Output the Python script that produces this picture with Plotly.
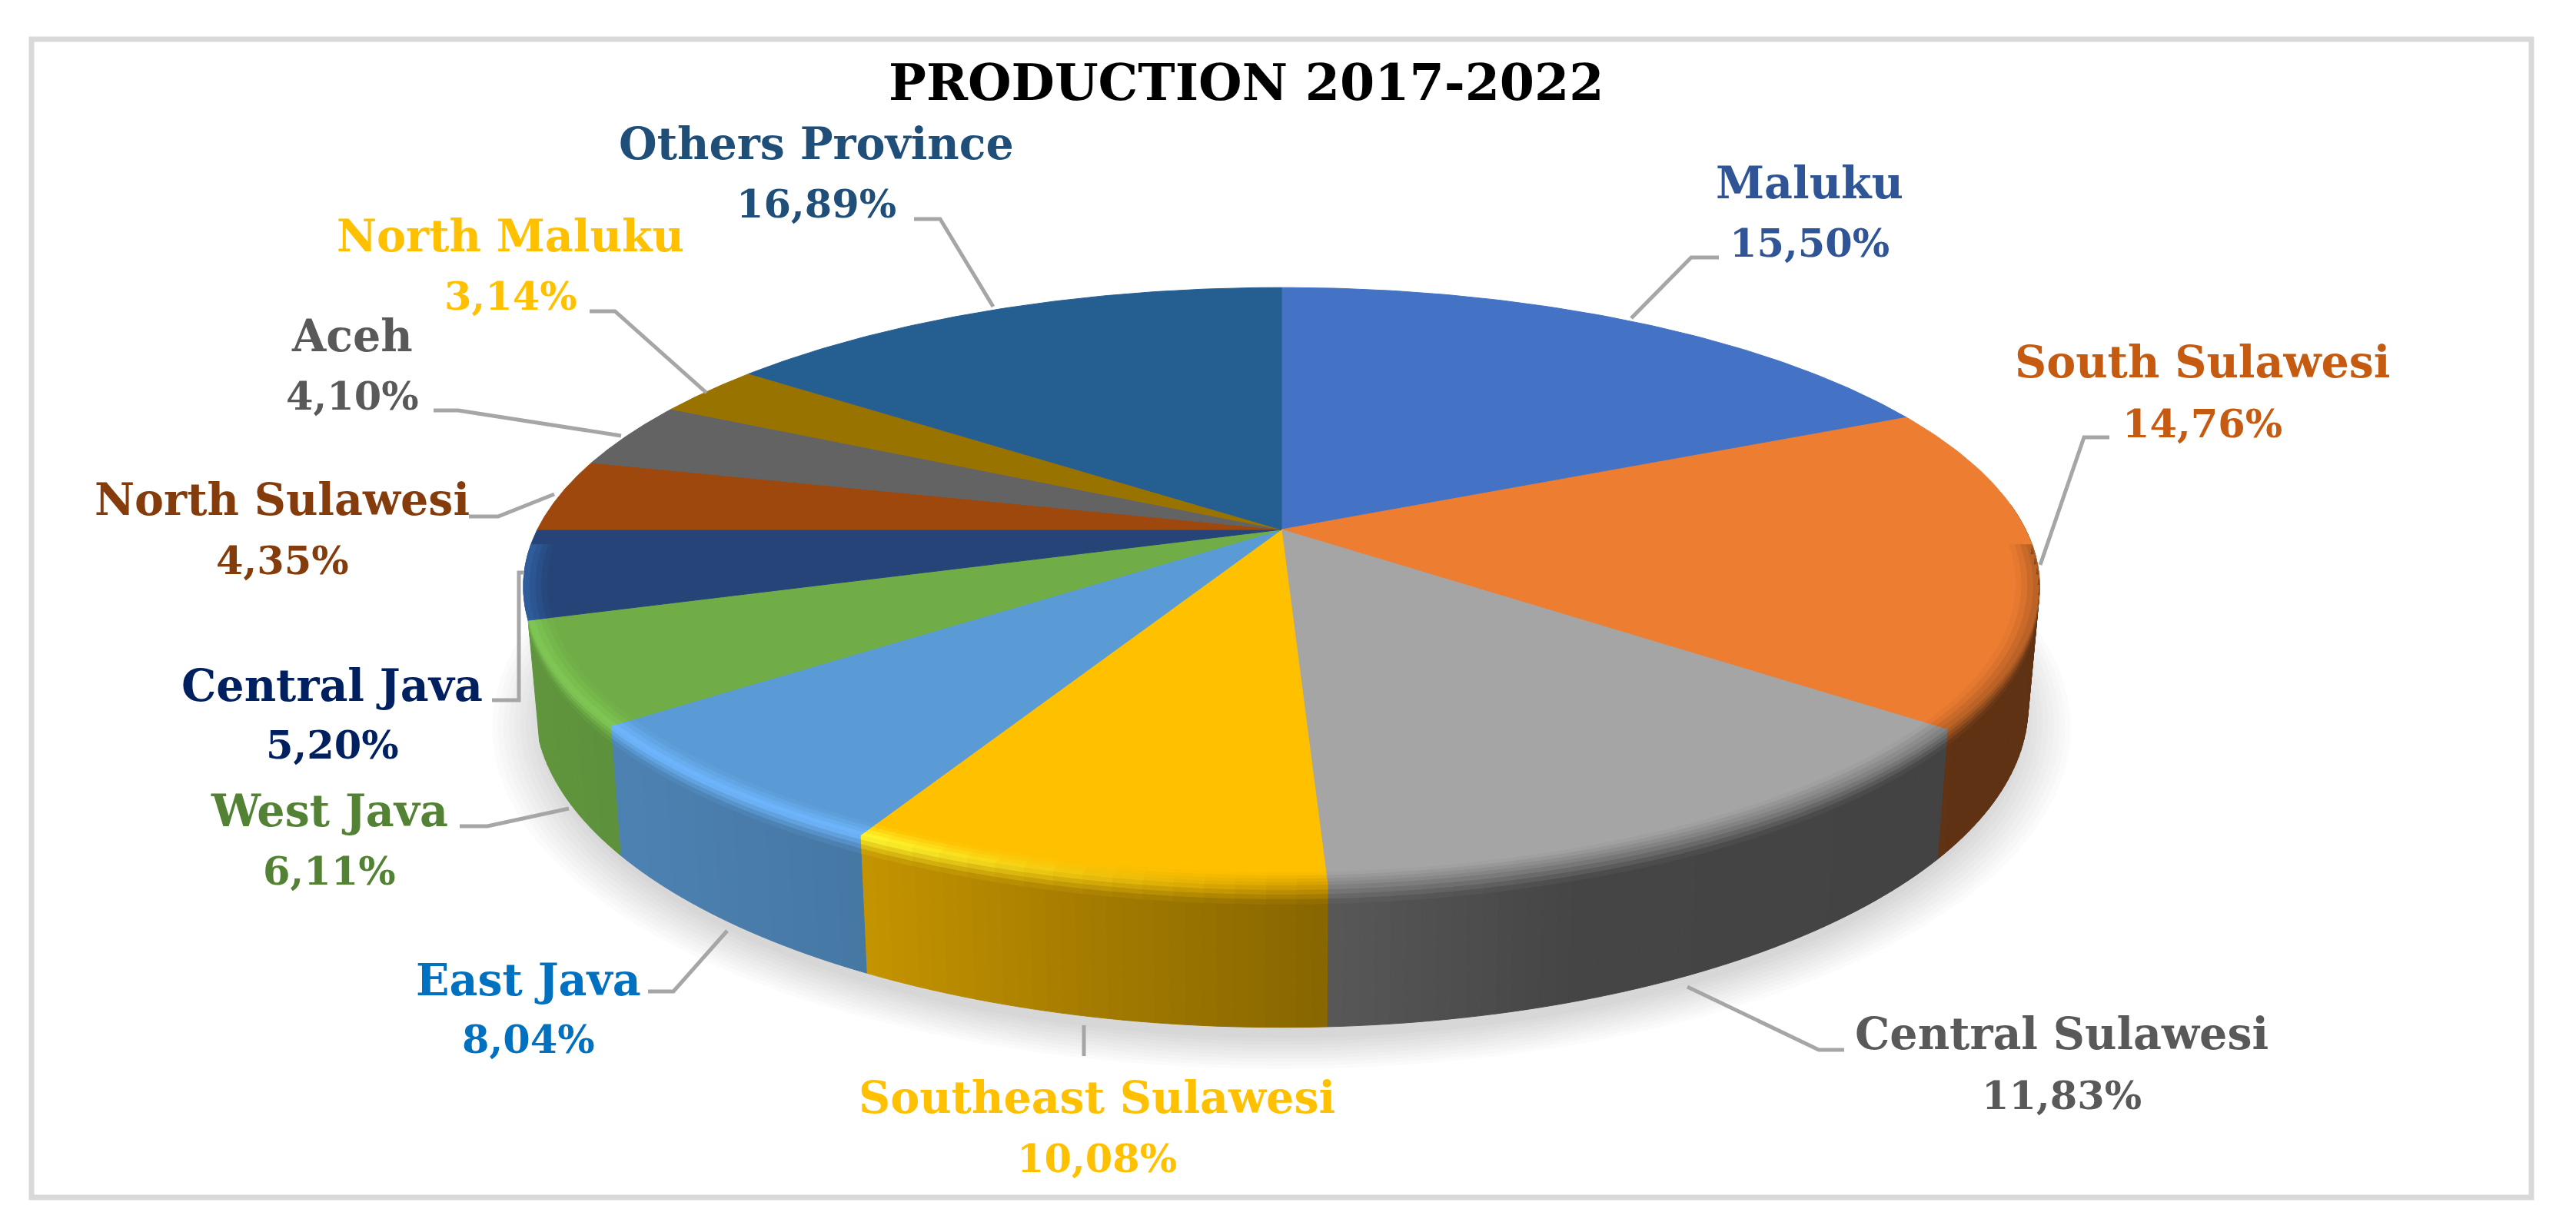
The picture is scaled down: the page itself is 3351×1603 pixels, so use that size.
# plot.py - PRODUCTION 2017-2022, perspective pie with a bevelled rim

import numpy as np
import plotly.graph_objects as go

provinces = ["Maluku", "South Sulawesi", "Central Sulawesi", "Southeast Sulawesi", "East Java",
             "West Java", "Central Java", "North Sulawesi", "Aceh", "North Maluku", "Others Province"]
# percentages as printed on the labels
label_pct = [15.50, 14.76, 11.83, 10.08, 8.04, 6.11, 5.20, 4.35, 4.10, 3.14, 16.89]
# the wedges in the picture do not follow the printed numbers, these are read off the wedges
drawn_pct = [18.1, 17.4, 13.7, 8.6, 6.9, 5.5, 4.8, 3.9, 3.6, 2.8, 14.7]

face_colors = ["#4472C4", "#ED7D31", "#A5A5A5", "#FFC000", "#5B9BD5", "#70AD47",
               "#264478", "#9E480E", "#636363", "#997300", "#255E91"]
ridge_colors = ["#4472C4", "#ED7D31", "#A5A5A5", "#FFF830", "#70B8FF", "#80C855",
                "#3060A0", "#9E480E", "#636363", "#997300", "#255E91"]
label_colors = ["#2F5597", "#C55A11", "#595959", "#FFC000", "#0070C0", "#548235",
                "#002060", "#843C0C", "#595959", "#FFC000", "#1F4E79"]

# label centre x, name y, value y
label_pos = [(2354, 237, 316), (2865, 470, 551), (2682, 1344, 1425), (1427, 1427, 1507),
             (687, 1274, 1352), (428, 1054, 1133), (432, 891, 969), (367, 649, 729),
             (458, 436, 515), (664, 306, 385), (1062, 186, 265)]

leaders = [
    [(2236, 335), (2200, 335), (2122, 414)],
    [(2744, 569), (2711, 569), (2654, 735)],
    [(2195, 1284), (2366, 1366), (2399, 1366)],
    [(1410, 1334), (1410, 1374)],
    [(843, 1290), (876, 1290), (946, 1211)],
    [(598, 1075), (634, 1075), (740, 1052)],
    [(682, 745), (675, 745), (675, 911), (640, 911)],
    [(610, 672), (648, 672), (721, 643)],
    [(564, 534), (596, 534), (808, 567)],
    [(767, 405), (800, 405), (919, 511)],
    [(1189, 285), (1223, 285), (1292, 399)],
]

# perspective of the pie on the page
CX, CY = 1667, 689
RX, RY, TILT = 968, 375, 0.191
DEPTH, TAPER = 149, 0.015


def project(theta, r=1.0, drop=0.0):
    """Clockwise angle from the top of the pie to page position, drop=1 is the bottom face."""
    theta = np.asarray(theta, dtype=float)
    px = r * np.sin(theta)
    py = r * np.cos(theta)
    w = 1 + TILT * py
    x = CX + RX * px / w * (1 - TAPER * drop)
    y = CY - RY * py / w + drop * DEPTH / w
    return x, y


def rgb(hex_color):
    return np.array([int(hex_color[i:i + 2], 16) for i in (1, 3, 5)], dtype=float)


def css(values):
    r, g, b = np.clip(values, 0, 255).round().astype(int)
    return f"rgb({r},{g},{b})"


def rim_shade(x):
    return np.interp(x, [680, 1120, 1400, 1730, 2050, 2660], [0.86, 0.77, 0.65, 0.53, 0.42, 0.40])


def ridge_strength(x):
    return np.interp(x, [680, 1150, 1750], [1, 1, 0])


def add_poly(fig, x, y, color):
    fig.add_trace(go.Scatter(x=x, y=y, mode="lines", fill="toself", fillcolor=color,
                             line=dict(color=color, width=1), hoverinfo="skip", showlegend=False))


fig = go.Figure()

# soft shadow on the page under the pie
ring = np.linspace(0, 2 * np.pi, 240)
for r in np.linspace(1.055, 0.99, 10):
    sx, sy = project(ring, r=r, drop=1)
    fig.add_trace(go.Scatter(x=sx, y=sy + 20, mode="lines", fill="toself", fillcolor="rgba(0,0,0,0.016)",
                             line=dict(width=0), hoverinfo="skip", showlegend=False))

edges = np.deg2rad(np.concatenate([[0], np.cumsum(drawn_pct)]) * 3.6)
rim_end = edges[6]  # the rim stops at the Central Java wedge on the left

# rim, split into narrow strips so it can shade from left to right
for i, color in enumerate(face_colors):
    a0, a1 = max(edges[i], np.deg2rad(85)), min(edges[i + 1], rim_end)
    if a1 <= a0:
        continue
    steps = np.linspace(a0, a1, int(np.ceil(np.rad2deg(a1 - a0) / 1.0)) + 1)
    for t0, t1 in zip(steps[:-1], steps[1:]):
        tx, ty = project([t0, t1])
        bx, by = project([t1, t0], drop=1)
        shade = rim_shade(tx.mean())
        add_poly(fig, np.r_[tx, bx, tx[0]], np.r_[ty, by, ty[0]], css(rgb(color) * shade))

# top face
for i, color in enumerate(face_colors):
    arc = np.linspace(edges[i], edges[i + 1], 80)
    ax, ay = project(arc)
    add_poly(fig, np.r_[CX, ax, CX], np.r_[CY, ay, CY], color)


def bevel_point(t, f):
    if f < 0:
        return project(t, r=1 + 0.03 * f)
    return project(t, drop=0.13 * f)


# rounded edge between face and rim, a few bands across it
band_edges = np.linspace(-1, 1, 9)
for i, color in enumerate(face_colors):
    a0, a1 = max(edges[i], np.deg2rad(93)), min(edges[i + 1], np.deg2rad(267))
    if a1 <= a0:
        continue
    steps = np.linspace(a0, a1, int(np.ceil(np.rad2deg(a1 - a0) / 2.0)) + 1)
    base = rgb(color)
    ridge = rgb(ridge_colors[i])
    for t0, t1 in zip(steps[:-1], steps[1:]):
        for f0, f1 in zip(band_edges[:-1], band_edges[1:]):
            f = (f0 + f1) / 2
            if f > 0 and t0 >= rim_end:
                continue
            pts = [bevel_point(t0, f0), bevel_point(t1, f0), bevel_point(t1, f1), bevel_point(t0, f1), bevel_point(t0, f0)]
            xs = [float(p[0]) for p in pts]
            ys = [float(p[1]) for p in pts]
            xmid = float(np.mean(xs))
            rim = base * rim_shade(xmid)
            hl = ridge_strength(xmid)
            peak = (base + (ridge - base) * hl) * hl + (base + (rim - base) * 0.4) * (1 - hl)
            mix = base + (peak - base) * (1 + f) if f < 0 else peak + (rim - peak) * f
            add_poly(fig, xs, ys, css(mix))

# leader lines and the frame
shapes = [dict(type="rect", x0=41, y0=51, x1=3293, y1=1558, line=dict(color="#D9D9D9", width=7), layer="below")]
for pts in leaders:
    path = "M " + " L ".join(f"{x},{y}" for x, y in pts)
    shapes.append(dict(type="path", path=path, line=dict(color="#A6A6A6", width=5)))

# texts
annotations = [dict(x=1621, y=107, text="<b>PRODUCTION 2017-2022</b>", showarrow=False,
                    font=dict(family="DejaVu Serif", size=65, color="#000000"))]
for name, pct, color, (lx, y1, y2) in zip(provinces, label_pct, label_colors, label_pos):
    value = f"{pct:.2f}".replace(".", ",") + "%"
    annotations.append(dict(x=lx, y=y1, text=f"<b>{name}</b>", showarrow=False,
                            font=dict(family="DejaVu Serif", size=57, color=color)))
    annotations.append(dict(x=lx, y=y2, text=f"<b>{value}</b>", showarrow=False,
                            font=dict(family="DejaVu Serif", size=51, color=color)))

fig.update_layout(
    width=3351,
    height=1603,
    margin=dict(l=0, r=0, t=0, b=0),
    paper_bgcolor="white",
    plot_bgcolor="white",
    showlegend=False,
    shapes=shapes,
    annotations=annotations,
)
fig.update_xaxes(range=[0, 3351], visible=False, fixedrange=True)
fig.update_yaxes(range=[1603, 0], visible=False, fixedrange=True)

fig.write_html("out.html", config=dict(displayModeBar=False),
               post_script="document.body.style.margin='0';")
